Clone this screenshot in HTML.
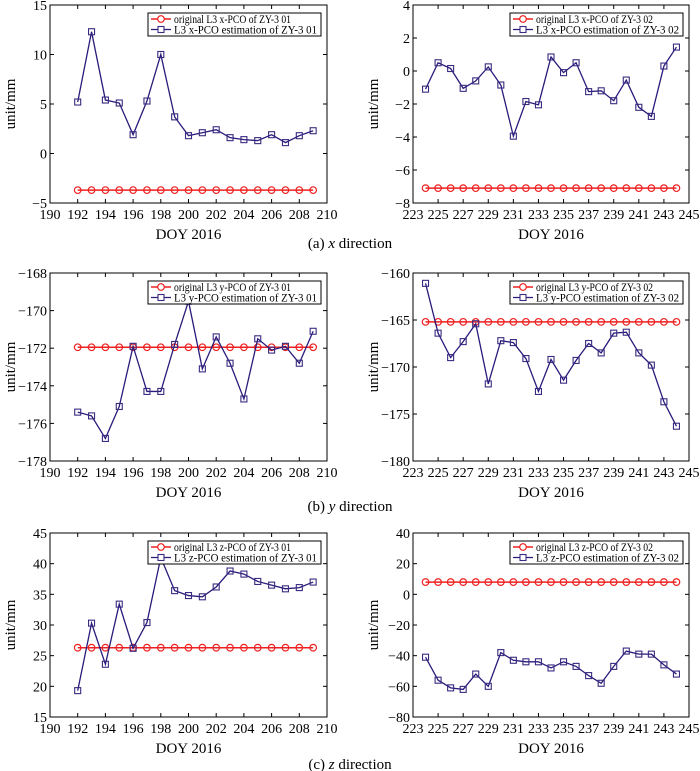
<!DOCTYPE html>
<html><head><meta charset="utf-8"><style>
body{margin:0;background:#fff;}
svg{display:block;font-family:"Liberation Serif",serif;}
</style></head><body>
<svg id="fig" width="700" height="771"></svg>
<script>
const daysA1=[192,193,194,195,196,197,198,199,200,201,202,203,204,205,206,207,208,209];
const daysA2=[224,225,226,227,228,229,230,231,232,233,234,235,236,237,238,239,240,241,242,243,244];
const xEst01=[5.2,12.3,5.4,5.1,1.9,5.3,10.0,3.7,1.8,2.1,2.4,1.6,1.4,1.3,1.9,1.1,1.8,2.3];
const xOrig01=-3.7;
const xEst02=[-1.1,0.5,0.15,-1.05,-0.6,0.25,-0.85,-3.95,-1.85,-2.05,0.85,-0.1,0.5,-1.25,-1.2,-1.8,-0.55,-2.2,-2.75,0.3,1.45];
const xOrig02=-7.1;
const yEst01=[-175.4,-175.6,-176.8,-175.1,-171.9,-174.3,-174.3,-171.8,-169.5,-173.1,-171.4,-172.8,-174.7,-171.5,-172.1,-171.9,-172.8,-171.1];
const yOrig01=-171.95;
const yEst02=[-161.1,-166.4,-169.0,-167.3,-165.4,-171.8,-167.2,-167.4,-169.1,-172.6,-169.2,-171.4,-169.3,-167.5,-168.5,-166.4,-166.3,-168.5,-169.8,-173.7,-176.3];
const yOrig02=-165.2;
const zEst01=[19.3,30.3,23.6,33.4,26.2,30.4,41.0,35.6,34.8,34.6,36.2,38.8,38.3,37.1,36.5,35.9,36.1,37.0];
const zOrig01=26.3;
const zEst02=[-41,-56,-61,-62,-52,-60,-38,-43,-44,-44,-48,-44,-47,-53,-58,-47,-37,-39,-39,-46,-52];
const zOrig02=8;
const xTicksL=[190,192,194,196,198,200,202,204,206,208,210];
const xTicksR=[223,225,227,229,231,233,235,237,239,241,243,245];
const yTicksA1=[-5,0,5,10,15];
const yTicksA2=[-8,-6,-4,-2,0,2,4];
const yTicksB1=[-178,-176,-174,-172,-170,-168];
const yTicksB2=[-180,-175,-170,-165,-160];
const yTicksC1=[15,20,25,30,35,40,45];
const yTicksC2=[-80,-60,-40,-20,0,20,40];

const NS="http://www.w3.org/2000/svg";
const svg=document.getElementById('fig');
function mk(tag,attrs,parent){const e=document.createElementNS(NS,tag);for(const k in attrs)e.setAttribute(k,attrs[k]);(parent||svg).appendChild(e);return e;}
function fmt(v){return v<0?'\u2212'+Math.abs(v):String(v);}

function panel(name,box,xd,yd,xt,yt,days,est,orig,comp,sat){
  const g=mk('g',{});
  
  
  const [L,T,R,B]=box;
  const sx=v=>L+(v-xd[0])/(xd[1]-xd[0])*(R-L);
  const sy=v=>B-(v-yd[0])/(yd[1]-yd[0])*(B-T);
  const clipId='c'+name;
  const cp=mk('clipPath',{id:clipId},g);mk('rect',{x:L,y:T,width:R-L,height:B-T},cp);
  xt.forEach(t=>{const x=sx(t);
    mk('line',{x1:x,y1:B,x2:x,y2:B-4,stroke:'#000','stroke-width':1},g);
    mk('line',{x1:x,y1:T,x2:x,y2:T+4,stroke:'#000','stroke-width':1},g);
    const tx=mk('text',{x:x,y:B+16,'text-anchor':'middle','font-size':14},g);tx.textContent=t;
    
    });
  yt.forEach(t=>{const y=sy(t);
    mk('line',{x1:L,y1:y,x2:L+4,y2:y,stroke:'#000','stroke-width':1},g);
    mk('line',{x1:R,y1:y,x2:R-4,y2:y,stroke:'#000','stroke-width':1},g);
    const tx=mk('text',{x:L-3,y:y+5,'text-anchor':'end','font-size':14},g);tx.textContent=fmt(t);
    
    });
  const pg=mk('g',{'clip-path':'url(#'+clipId+')'},g);
  const ox=days.map(d=>sx(d));
  const ol=mk('line',{x1:ox[0],y1:sy(orig),x2:ox[ox.length-1],y2:sy(orig),stroke:'#ee2020','stroke-width':1.5},pg);
  
  
  days.forEach(d=>{const c=mk('circle',{cx:sx(d),cy:sy(orig),r:3.3,fill:'none',stroke:'#ee2020','stroke-width':1.2},pg);
    
    });
  const pts=days.map((d,i)=>sx(d)+','+sy(est[i])).join(' ');
  const pl=mk('polyline',{points:pts,fill:'none',stroke:'#2a1a7a','stroke-width':1.3},pg);
  
  
  days.forEach((d,i)=>{const r=mk('rect',{x:sx(d)-3,y:sy(est[i])-3,width:6,height:6,fill:'none',stroke:'#3a2a80','stroke-width':1.1},pg);
    
    });
  mk('rect',{x:L,y:T,width:R-L,height:B-T,fill:'none',stroke:'#000','stroke-width':1},g);
  const lw=173,lx=R-lw-6,ly=T+8;
  const lg=mk('g',{},g);
  
  
  mk('rect',{x:lx,y:ly,width:lw,height:23,fill:'#fff',stroke:'#000','stroke-width':1},lg);
  mk('line',{x1:lx+3,y1:ly+6,x2:lx+23,y2:ly+6,stroke:'#ee2020','stroke-width':1.5},lg);
  mk('circle',{cx:lx+13,cy:ly+6,r:3.3,fill:'#fff',stroke:'#ee2020','stroke-width':1.2},lg);
  let t1=mk('text',{x:lx+26,y:ly+10,'font-size':11.5,textLength:117,lengthAdjust:'spacingAndGlyphs'},lg);t1.textContent='original L3 '+comp+'-PCO of ZY-3 '+sat;
  mk('line',{x1:lx+3,y1:ly+16.5,x2:lx+23,y2:ly+16.5,stroke:'#2a1a7a','stroke-width':1.3},lg);
  mk('rect',{x:lx+10,y:ly+13.5,width:6,height:6,fill:'#fff',stroke:'#3a2a80','stroke-width':1.1},lg);
  let t2=mk('text',{x:lx+26,y:ly+20.5,'font-size':11.5,textLength:143,lengthAdjust:'spacingAndGlyphs'},lg);t2.textContent='L3 '+comp+'-PCO estimation of ZY-3 '+sat;
  const xl=mk('text',{x:(L+R)/2,y:B+36,'text-anchor':'middle','font-size':15},g);xl.textContent='DOY 2016';
  
  
  const yl=mk('text',{x:0,y:0,'text-anchor':'middle','font-size':15,transform:'translate('+(L-35)+','+((T+B)/2)+') rotate(-90)'},g);yl.textContent='unit/mm';
  
  
}
const Lb=[50,327],Rb=[413,689];
panel('panel-x-zy301',[Lb[0],5,Lb[1],203],[190,210],[-5,15],xTicksL,yTicksA1,daysA1,xEst01,xOrig01,'x','01');
panel('panel-x-zy302',[Rb[0],5,Rb[1],203],[223,245],[-8,4],xTicksR,yTicksA2,daysA2,xEst02,xOrig02,'x','02');
panel('panel-y-zy301',[Lb[0],273,Lb[1],461],[190,210],[-178,-168],xTicksL,yTicksB1,daysA1,yEst01,yOrig01,'y','01');
panel('panel-y-zy302',[Rb[0],273,Rb[1],461],[223,245],[-180,-160],xTicksR,yTicksB2,daysA2,yEst02,yOrig02,'y','02');
panel('panel-z-zy301',[Lb[0],533,Lb[1],717],[190,210],[15,45],xTicksL,yTicksC1,daysA1,zEst01,zOrig01,'z','01');
panel('panel-z-zy302',[Rb[0],533,Rb[1],717],[223,245],[-80,40],xTicksR,yTicksC2,daysA2,zEst02,zOrig02,'z','02');
[['(a) ','x',' direction',248],['(b) ','y',' direction',511],['(c) ','z',' direction',769]].forEach(c=>{
  const t=mk('text',{x:350,y:c[3],'text-anchor':'middle','font-size':15});
  
  
  const a=mk('tspan',{},t);a.textContent=c[0];
  const b=mk('tspan',{'font-style':'italic'},t);b.textContent=c[1];
  const d=mk('tspan',{},t);d.textContent=c[2];
});
</script>
</body></html>
